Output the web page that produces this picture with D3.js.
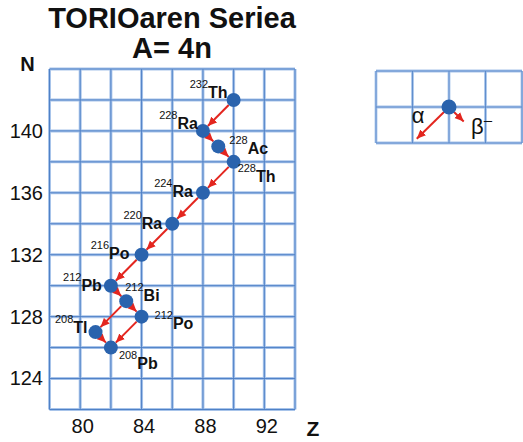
<!DOCTYPE html>
<html>
<head>
<meta charset="utf-8">
<script src="https://cdnjs.cloudflare.com/ajax/libs/d3/7.8.5/d3.min.js"></script>
<style>
  body { margin: 0; background: #fff; }
  text { font-family: "Liberation Sans", Arial, Helvetica, sans-serif; fill: #111; }
</style>
</head>
<body>
<script>
// nuclides of the thorium (4n) series
var symbols     = ["Th", "Ra", "Ac", "Th", "Ra", "Ra", "Po", "Pb", "Bi", "Po", "Tl", "Pb"];
var massNumbers = [232, 228, 228, 228, 224, 220, 216, 212, 212, 212, 208, 208];
var protonZ     = [90, 88, 89, 90, 88, 86, 84, 82, 83, 84, 81, 82];
var neutronN    = [142, 140, 139, 138, 136, 134, 132, 130, 129, 128, 127, 126];

// decays as [from, to] index pairs
var alphaDecays = [[0, 1], [3, 4], [4, 5], [5, 6], [6, 7], [8, 10], [9, 11]];
var betaDecays  = [[1, 2], [2, 3], [7, 8], [8, 9], [10, 11]];

var zTicks = [80, 84, 88, 92];
var nTicks = [124, 128, 132, 136, 140];
var zRange = [78, 94];
var nRange = [122, 144];

var width = 523, height = 442;
var red = "#e3261f", blue = "#2a63ad";

var svg = d3.select("body").append("svg")
    .attr("width", width).attr("height", height);

svg.append("defs").append("marker")
    .attr("id", "head")
    .attr("markerUnits", "userSpaceOnUse")
    .attr("viewBox", "0 0 10 10")
    .attr("refX", 10).attr("refY", 5)
    .attr("markerWidth", 9).attr("markerHeight", 9)
    .attr("orient", "auto")
  .append("path")
    .attr("d", "M0,0.5 L10,5 L0,9.5 Z")
    .attr("fill", red);

// title
svg.append("text").attr("x", 172).attr("y", 28).attr("text-anchor", "middle")
    .style("font-size", "29px").style("font-weight", "bold").text("TORIOaren Seriea");
svg.append("text").attr("x", 172).attr("y", 58).attr("text-anchor", "middle")
    .style("font-size", "29px").style("font-weight", "bold").text("A= 4n");

var x = d3.scaleLinear().domain(zRange).range([49.5, 295]);
var y = d3.scaleLinear().domain(nRange).range([409.5, 69]);

function drawGrid(g, xs, ys, xv, yv, w) {
  [["#a8c4ea", w + 2], ["#4f81c7", w]].forEach(function(s) {
    g.selectAll(null).data(xv).enter().append("line")
        .attr("x1", xs).attr("x2", xs)
        .attr("y1", ys.range()[0]).attr("y2", ys.range()[1])
        .attr("stroke", s[0]).attr("stroke-width", s[1]);
    g.selectAll(null).data(yv).enter().append("line")
        .attr("y1", ys).attr("y2", ys)
        .attr("x1", xs.range()[0]).attr("x2", xs.range()[1])
        .attr("stroke", s[0]).attr("stroke-width", s[1]);
  });
}

var chart = svg.append("g");
drawGrid(chart.append("g"), x, y,
  d3.range(zRange[0], zRange[1] + 1, 2), d3.range(nRange[0], nRange[1] + 1, 2), 1);

var xAxis = chart.append("g").attr("transform", "translate(0,409.5)")
    .call(d3.axisBottom(x).tickValues(zTicks).tickSize(0).tickPadding(9.5));
var yAxis = chart.append("g").attr("transform", "translate(49.5,0)")
    .call(d3.axisLeft(y).tickValues(nTicks).tickSize(0).tickPadding(6.5));
[xAxis, yAxis].forEach(function(a) {
  a.select(".domain").remove();
  a.selectAll("text").style("font-size", "20px").attr("fill", "#111")
      .style("font-family", "'Liberation Sans', Arial, sans-serif");
});
xAxis.selectAll("text").attr("dx", 2);

svg.append("text").attr("x", 27.5).attr("y", 71).attr("text-anchor", "middle")
    .style("font-size", "20px").style("font-weight", "bold").text("N");
svg.append("text").attr("x", 313).attr("y", 436).attr("text-anchor", "middle")
    .style("font-size", "21px").style("font-weight", "bold").text("Z");

var r = 7;
function arrow(g, p0, p1, gapStart, gapEnd) {
  var dx = p1[0] - p0[0], dy = p1[1] - p0[1], len = Math.sqrt(dx * dx + dy * dy);
  var ux = dx / len, uy = dy / len;
  g.append("line")
      .attr("x1", p0[0] + ux * gapStart).attr("y1", p0[1] + uy * gapStart)
      .attr("x2", p1[0] - ux * gapEnd).attr("y2", p1[1] - uy * gapEnd)
      .attr("stroke", red).attr("stroke-width", 2)
      .attr("marker-end", "url(#head)");
}

var nuclides = symbols.map(function(s, i) {
  return { sym: s, A: massNumbers[i], Z: protonZ[i], N: neutronN[i] };
});
function pos(i) { return [x(nuclides[i].Z), y(nuclides[i].N)]; }

var arrows = chart.append("g");
alphaDecays.concat(betaDecays).forEach(function(d) {
  arrow(arrows, pos(d[0]), pos(d[1]), r, r);
});

chart.append("g").selectAll("circle").data(nuclides).enter().append("circle")
    .attr("cx", function(d) { return x(d.Z); })
    .attr("cy", function(d) { return y(d.N); })
    .attr("r", r).attr("fill", blue);

// label placement: [dx, dy, anchor]
var labelPos = [
  [-6, -2, "end"], [-5, -2, "end"], [11, 8, "start"], [4, 20, "start"],
  [-10, 4, "end"], [-10, 5, "end"], [-12, 4, "end"], [-9, 5, "end"],
  [-1, 0, "start"], [13, 12, "start"], [-8, 1, "end"], [8, 21, "start"]
];
var labels = chart.append("g").selectAll("text").data(nuclides).enter().append("text")
    .attr("x", function(d, i) { return x(d.Z) + labelPos[i][0]; })
    .attr("y", function(d, i) { return y(d.N) + labelPos[i][1]; })
    .attr("text-anchor", function(d, i) { return labelPos[i][2]; });
labels.append("tspan").attr("dy", -10).style("font-size", "11px")
    .text(function(d) { return d.A; });
labels.append("tspan").attr("dy", 10).style("font-size", "16px").style("font-weight", "bold")
    .text(function(d) { return d.sym; });

// legend
var lx = d3.scaleLinear().domain([0, 8]).range([376, 522]);
var ly = d3.scaleLinear().domain([0, 4]).range([143, 71]);
var legend = svg.append("g");
drawGrid(legend.append("g"), lx, ly, [0, 2, 4, 6, 8], [0, 2, 4], 0.8);
var lc = [lx(4), ly(2)];
arrow(legend, lc, [lx(2), ly(0)], 7, 6);
arrow(legend, lc, [lx(5), ly(1)], 7, 5);
legend.append("circle").attr("cx", lc[0]).attr("cy", lc[1]).attr("r", 7.5).attr("fill", blue);
legend.append("text").attr("x", 418).attr("y", 123).attr("text-anchor", "middle")
    .style("font-size", "22px").text("α");
var bt = legend.append("text").attr("x", 471).attr("y", 134).style("font-size", "22px");
bt.append("tspan").text("β");
bt.append("tspan").attr("dy", -9).style("font-size", "15px").text("–");
</script>
</body>
</html>
